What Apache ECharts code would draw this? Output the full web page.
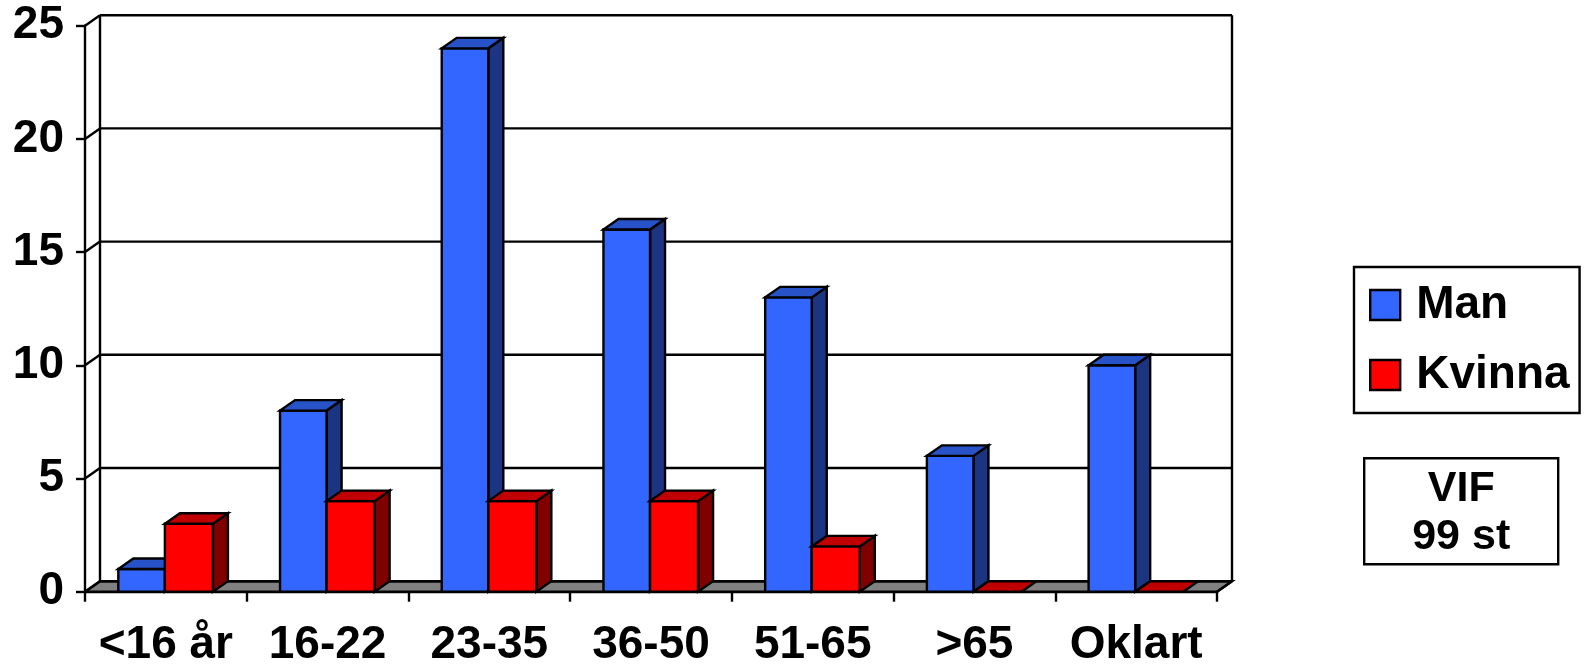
<!DOCTYPE html>
<html>
<head>
<meta charset="utf-8">
<script src="https://cdn.jsdelivr.net/npm/echarts@6/dist/echarts.min.js"></script>
<style>
html,body{margin:0;padding:0;background:#fff;}
#c{width:1586px;height:665px;}
</style>
</head>
<body>
<div id="c"></div>
<script>
// ---- data ----
const categories = ['<16 år', '16-22', '23-35', '36-50', '51-65', '>65', 'Oklart'];
const manValues = [1, 8, 24, 16, 13, 6, 10];
const kvinnaValues = [3, 4, 4, 4, 2, 0, 0];
const yTicks = [0, 5, 10, 15, 20, 25];
const seriesNames = ['Man', 'Kvinna'];
const noteLines = ['VIF', '99 st'];

// ---- style ----
const FONT = "'Liberation Sans', Arial, sans-serif";
const DX = 15, DY = -10.5;
const LW = 2.4;
const palette = {
  Man: { front: '#3366FF', top: '#2852C8', side: '#1B3583' },
  Kvinna: { front: '#FF0000', top: '#C00000', side: '#800000' }
};

const chart = echarts.init(document.getElementById('c'));

function barRenderer(name, startFrac, endFrac) {
  const col = palette[name];
  return function (params, api) {
    const idx = api.value(0), v = api.value(1);
    const base = api.coord([idx, 0]);
    const top = api.coord([idx, v]);
    const band = api.size([1, 0])[0];
    const x0 = base[0] + startFrac * band;
    const x1 = base[0] + endFrac * band;
    const y0 = base[1], yt = top[1];
    const stroke = { stroke: '#000', lineWidth: LW, lineJoin: 'miter' };
    const children = [];
    if (y0 - yt > 0.5) {
      children.push({ type: 'polygon', shape: { points: [[x1, yt], [x1 + DX, yt + DY], [x1 + DX, y0 + DY], [x1, y0]] },
        style: Object.assign({ fill: col.side }, stroke) });
      children.push({ type: 'rect', shape: { x: x0, y: yt, width: x1 - x0, height: y0 - yt },
        style: Object.assign({ fill: col.front }, stroke) });
    }
    children.push({ type: 'polygon', shape: { points: [[x0, yt], [x1, yt], [x1 + DX, yt + DY], [x0 + DX, yt + DY]] },
      style: Object.assign({ fill: col.top }, stroke) });
    return { type: 'group', children: children };
  };
}

const option = {
  backgroundColor: '#fff',
  animation: false,
  grid: { left: 85, right: 369, top: 25.7, bottom: 73.3, containLabel: false, outerBoundsMode: 'none' },
  xAxis: {
    type: 'category',
    data: categories,
    boundaryGap: true,
    axisLine: { show: true, lineStyle: { color: '#000', width: LW } },
    axisTick: { show: true, length: 10, lineStyle: { color: '#000', width: LW } },
    axisLabel: { color: '#000', fontFamily: FONT, fontWeight: 'bold', fontSize: 46, margin: 31, interval: 0 },
    splitLine: { show: false }
  },
  yAxis: {
    type: 'value',
    min: yTicks[0],
    max: yTicks[yTicks.length - 1],
    interval: yTicks[1] - yTicks[0],
    axisLine: { show: true, lineStyle: { color: '#000', width: LW } },
    axisTick: { show: true, length: 9, lineStyle: { color: '#000', width: LW } },
    axisLabel: { color: '#000', fontFamily: FONT, fontWeight: 'bold', fontSize: 46, margin: 21, padding: [6, 0, 0, 0] },
    splitLine: { show: false }
  },
  legend: {
    orient: 'vertical',
    left: 1354,
    top: 267,
    padding: [15, 10, 15, 15],
    borderColor: '#000',
    borderWidth: LW,
    itemWidth: 30,
    itemHeight: 30,
    itemGap: 24,
    selectedMode: false,
    textStyle: { color: '#000', fontFamily: FONT, fontWeight: 'bold', fontSize: 46, lineHeight: 46, padding: [0, 0, 0, 11] },
    data: seriesNames.map(n => ({ name: n, icon: 'rect', itemStyle: { color: palette[n].front, borderColor: '#000', borderWidth: LW } }))
  },
  graphic: [{
    type: 'group',
    left: 1363,
    top: 457,
    children: [
      { type: 'rect', shape: { x: 0, y: 0, width: 194, height: 106 }, style: { fill: '#fff', stroke: '#000', lineWidth: LW } },
      { type: 'text', x: 97, y: 55, style: { text: noteLines.join('\n'), fill: '#000', font: "bold 43px " + FONT, lineHeight: 48, align: 'center', verticalAlign: 'middle' } }
    ]
  }],
  series: [
    {
      name: 'frame', type: 'custom', silent: true, data: [[0, 0]],
      renderItem: function (params, api) {
        const cs = params.coordSys;
        const y0 = api.coord([0, yTicks[0]])[1];
        const yTop = api.coord([0, yTicks[yTicks.length - 1]])[1];
        const xl = cs.x, xr = cs.x + cs.width;
        return { type: 'group', children: [
          { type: 'polygon', shape: { points: [[xl, y0], [xr, y0], [xr + DX, y0 + DY], [xl + DX, y0 + DY]] }, style: { fill: '#808080', stroke: '#000', lineWidth: LW } },
          { type: 'line', shape: { x1: xl + DX, y1: yTop + DY, x2: xl + DX, y2: y0 + DY }, style: { stroke: '#000', lineWidth: LW } },
          { type: 'line', shape: { x1: xr + DX, y1: yTop + DY, x2: xr + DX, y2: y0 + DY }, style: { stroke: '#000', lineWidth: LW } },
          { type: 'line', shape: { x1: xr, y1: y0, x2: xr + DX, y2: y0 + DY }, style: { stroke: '#000', lineWidth: LW } }
        ] };
      }
    },
    {
      name: 'grid', type: 'custom', silent: true,
      data: yTicks.map(v => [0, v]),
      renderItem: function (params, api) {
        const cs = params.coordSys;
        const y = api.coord([0, api.value(1)])[1];
        const xl = cs.x, xr = cs.x + cs.width;
        return { type: 'group', children: [
          { type: 'line', shape: { x1: xl + DX, y1: y + DY, x2: xr + DX, y2: y + DY }, style: { stroke: '#000', lineWidth: LW } },
          { type: 'line', shape: { x1: xl, y1: y, x2: xl + DX, y2: y + DY }, style: { stroke: '#000', lineWidth: LW } }
        ] };
      }
    },
    {
      name: 'Man', type: 'custom',
      itemStyle: { color: palette.Man.front },
      data: manValues.map((v, i) => [i, v]),
      encode: { x: 0, y: 1 },
      renderItem: barRenderer('Man', -0.294, -0.006)
    },
    {
      name: 'Kvinna', type: 'custom',
      itemStyle: { color: palette.Kvinna.front },
      data: kvinnaValues.map((v, i) => [i, v]),
      encode: { x: 0, y: 1 },
      renderItem: barRenderer('Kvinna', -0.006, 0.291)
    }
  ]
};
chart.setOption(option);
</script>
</body>
</html>
